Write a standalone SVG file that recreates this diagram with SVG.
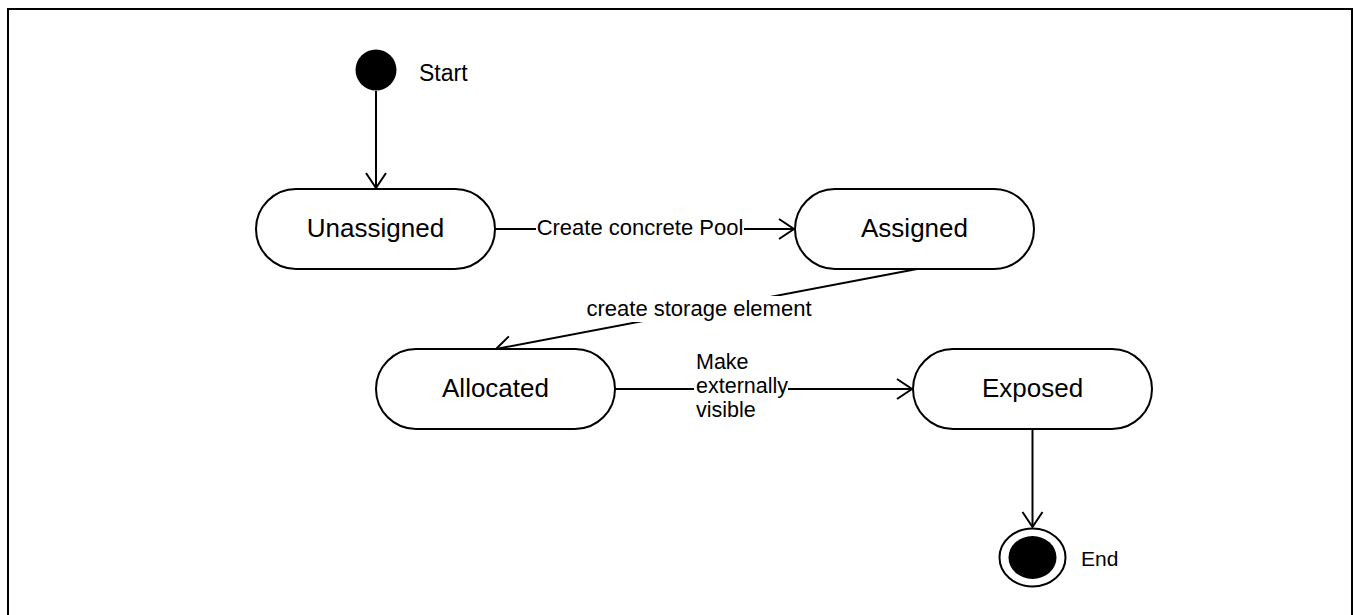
<svg xmlns="http://www.w3.org/2000/svg" width="1353" height="615" viewBox="0 0 1353 615">
<style>
.state{fill:#fff;stroke:#000;stroke-width:2}
.lbl{font-family:"Liberation Sans",Arial,sans-serif;font-size:26px;fill:#000;text-anchor:middle}
.elbl{font-family:"Liberation Sans",Arial,sans-serif;font-size:22px;fill:#000}
.edge{fill:none;stroke:#000;stroke-width:2;marker-end:url(#arr)}
.bg{fill:#fff}
</style>
<defs>
<marker id="arr" markerUnits="userSpaceOnUse" viewBox="-18 -12 20 24" markerWidth="20" markerHeight="24" refX="0" refY="0" orient="auto">
<path d="M-15,-10 L0,0 L-15,10" fill="none" stroke="#000" stroke-width="2"/>
</marker>
</defs>
<rect width="1353" height="615" fill="#fff"/>
<path d="M8,620 V9 H1352 V620" fill="none" stroke="#000" stroke-width="2"/>

<g id="connectors">
<line class="edge" x1="376" y1="91" x2="376" y2="188"/>
<line class="edge" x1="495" y1="229" x2="794" y2="229"/>
<rect class="bg" x="536" y="213" width="208" height="27"/>
<text class="elbl" x="640" y="235" text-anchor="middle">Create concrete Pool</text>
<line class="edge" x1="917" y1="269" x2="496" y2="349"/>
<rect class="bg" x="585" y="296" width="228" height="26"/>
<text class="elbl" x="699" y="316" text-anchor="middle">create storage element</text>
<line class="edge" x1="615" y1="389" x2="912" y2="389"/>
<rect class="bg" x="694" y="374" width="94" height="24"/>
<text class="elbl" style="font-size:21.5px" x="696" y="369">Make</text>
<text class="elbl" style="font-size:21.5px" x="696" y="393">externally</text>
<text class="elbl" style="font-size:21.5px" x="696" y="417">visible</text>
<line class="edge" x1="1032.5" y1="429" x2="1032.5" y2="527"/>
</g>

<g id="start">
<circle cx="376" cy="70" r="20.5" fill="#000"/>
<text class="elbl" style="font-size:23px" x="419" y="81">Start</text>
</g>

<g id="unassigned">
<rect class="state" x="256" y="189" width="239" height="80" rx="40" ry="40"/>
<text class="lbl" x="375.5" y="237">Unassigned</text>
</g>

<g id="assigned">
<rect class="state" x="795" y="189" width="239" height="80" rx="40" ry="40"/>
<text class="lbl" x="914.5" y="237">Assigned</text>
</g>

<g id="allocated">
<rect class="state" x="376" y="349" width="239" height="80" rx="40" ry="40"/>
<text class="lbl" x="495.5" y="397">Allocated</text>
</g>

<g id="exposed">
<rect class="state" x="913" y="349" width="239" height="80" rx="40" ry="40"/>
<text class="lbl" x="1032.5" y="397">Exposed</text>
</g>

<g id="end">
<ellipse cx="1032.5" cy="557.5" rx="33" ry="29" fill="#fff" stroke="#000" stroke-width="2"/>
<ellipse cx="1032.5" cy="557.5" rx="24" ry="21.5" fill="#000"/>
<text class="elbl" style="font-size:21px" x="1081" y="566">End</text>
</g>
</svg>
